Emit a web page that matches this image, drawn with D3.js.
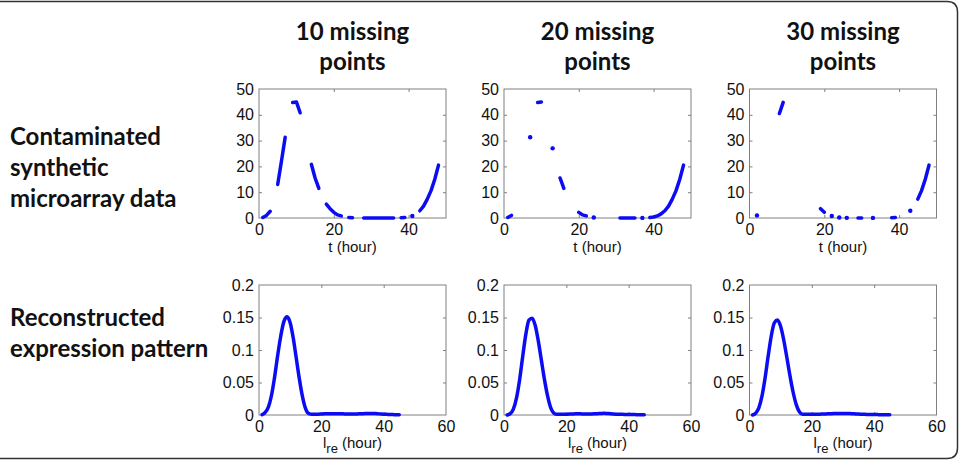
<!DOCTYPE html>
<html>
<head>
<meta charset="utf-8">
<script src="https://cdn.jsdelivr.net/npm/d3@7"></script>
<style>
  body { margin: 0; background: #fff; }
  svg { display: block; }
  .axis path { display: none; }
  .axis line { stroke: #808080; }
  .title { font-family: Lato, "Open Sans", sans-serif; font-weight: bold; font-size: 24px; fill: #111; }
  .xlabel { font-family: "Liberation Sans", Arial, sans-serif; font-size: 15px; fill: #111; }
</style>
</head>
<body>
<div id="chart"></div>
<script>
// synthetic profile, sampled hourly
var hours = [1, 2, 3, 4, 5, 6, 7, 8, 9, 10, 11, 12, 13, 14, 15, 16, 17, 18, 19, 20, 21, 22, 23, 24,
  25, 26, 27, 28, 29, 30, 31, 32, 33, 34, 35, 36, 37, 38, 39, 40, 41, 42, 43, 44, 45, 46, 47, 48];
var synthValues = [0.2, 1.0, 2.6, 6.5, 13, 22, 31.3, 40.5, 44.8, 45, 40.8, 33.5, 27, 20.8, 15.5, 11.5,
  8, 5.4, 3.6, 2.2, 1.2, 0.8, 0.4, 0.2, 0.1, 0.05, 0.03, 0.03, 0.03, 0.03, 0.03, 0.03, 0.03, 0.03,
  0.03, 0.03, 0.03, 0.1, 0.2, 0.4, 0.8, 1.6, 2.8, 4.6, 7.3, 10.6, 15, 20.5];

// hours removed in each column
var missing10 = [4, 8, 12, 13, 17, 23, 26, 27, 37, 40, 42];
var missing20 = [3, 4, 5, 6, 8, 11, 12, 14, 17, 18, 19, 23, 25, 26, 27, 28, 29, 30, 36, 38];
var missing30 = [1, 3, 4, 5, 6, 7, 10, 11, 12, 13, 14, 15, 16, 17, 18, 21, 23, 25, 27, 28, 31, 32,
  34, 35, 36, 37, 40, 41, 42, 44];

// reconstructed expression patterns
var reconHours = [1, 2, 3, 4, 5, 6, 7, 8, 9, 10, 11, 12, 13, 14, 15, 16, 17, 18, 19, 20, 21, 22, 23,
  24, 25, 26, 27, 28, 29, 30, 31, 32, 33, 34, 35, 36, 37, 38, 39, 40, 41, 42, 43, 44, 45];
var recon10 = [0.0005, 0.004, 0.012, 0.030, 0.058, 0.092, 0.122, 0.144, 0.151, 0.142, 0.118, 0.086,
  0.054, 0.027, 0.009, 0.002, 0.001, 0.001, 0.0012, 0.0015, 0.0018, 0.002, 0.002, 0.0021, 0.0021,
  0.002, 0.0018, 0.0016, 0.0015, 0.0015, 0.0016, 0.0018, 0.002, 0.0022, 0.0024, 0.0024, 0.0022,
  0.002, 0.0016, 0.0012, 0.001, 0.0008, 0.0006, 0.0004, 0.0003];
var recon20 = [0.0, 0.002, 0.009, 0.026, 0.054, 0.090, 0.124, 0.146, 0.149, 0.138, 0.114, 0.084,
  0.054, 0.029, 0.011, 0.003, 0.001, 0.001, 0.001, 0.0012, 0.0014, 0.0016, 0.0018, 0.0018, 0.0017,
  0.0016, 0.0015, 0.0016, 0.0018, 0.0021, 0.0024, 0.0026, 0.0024, 0.002, 0.0016, 0.0013, 0.0011,
  0.001, 0.0009, 0.0008, 0.0007, 0.0006, 0.0005, 0.0004, 0.0003];
var recon30 = [0.0, 0.003, 0.011, 0.029, 0.057, 0.091, 0.122, 0.142, 0.146, 0.136, 0.115, 0.088,
  0.060, 0.035, 0.016, 0.005, 0.001, 0.001, 0.001, 0.001, 0.0011, 0.0012, 0.0014, 0.0016, 0.0018,
  0.002, 0.0022, 0.0023, 0.0024, 0.0024, 0.0023, 0.0022, 0.002, 0.0017, 0.0014, 0.0012, 0.001,
  0.0009, 0.0008, 0.0007, 0.0006, 0.0005, 0.0004, 0.0004, 0.0003];

var topXTicks = [0, 20, 40];
var topYTicks = [0, 10, 20, 30, 40, 50];
var bottomXTicks = [0, 20, 40, 60];
var bottomYTicks = [0, 0.05, 0.1, 0.15, 0.2];

var columnTitles = [["10 missing", "points"], ["20 missing", "points"], ["30 missing", "points"]];
var rowLabels = [["Contaminated", "synthetic", "microarray data"], ["Reconstructed", "expression pattern"]];

var blue = "#0c0cf2";
var width = 959, height = 460;
var panelLefts = [259, 504, 749.5], panelW = 187;
var topRow = { y: 89, h: 129 }, bottomRow = { y: 285, h: 130 };

var svg = d3.select("#chart").append("svg")
  .attr("width", width)
  .attr("height", height);

// frame (only top/right edges visible)
svg.append("path")
  .attr("d", "M-5,1.5 H947 Q957.5,1.5 957.5,12 V448 Q957.5,458.5 947,458.5 H-5")
  .attr("fill", "none")
  .attr("stroke", "#333")
  .attr("stroke-width", 1.5);

columnTitles.forEach(function(lines, i) {
  var t = svg.append("text")
    .attr("class", "title")
    .attr("text-anchor", "middle")
    .attr("x", panelLefts[i] + panelW / 2)
    .attr("y", 40);
  lines.forEach(function(l, j) {
    t.append("tspan").attr("x", panelLefts[i] + panelW / 2).attr("dy", j ? 30 : 0).text(l);
  });
});

var rowY = [145, 326];
rowLabels.forEach(function(lines, i) {
  var t = svg.append("text").attr("class", "title").attr("x", 10).attr("y", rowY[i]);
  lines.forEach(function(l, j) {
    t.append("tspan").attr("x", 10).attr("dy", j ? 31 : 0).text(l);
  });
});

var drawAxes = function(g, x, y, xTicks, yTicks, w, h) {
  var tl = 3;
  g.append("rect")
    .attr("width", w).attr("height", h)
    .attr("fill", "none").attr("stroke", "#808080");
  g.append("g").attr("class", "axis")
    .attr("transform", "translate(0," + h + ")")
    .call(d3.axisBottom(x).tickValues(xTicks).tickSizeInner(-tl).tickSizeOuter(0).tickPadding(6));
  g.append("g").attr("class", "axis")
    .call(d3.axisTop(x).tickValues(xTicks).tickSizeInner(-tl).tickSizeOuter(0).tickFormat(""));
  g.append("g").attr("class", "axis")
    .call(d3.axisLeft(y).tickValues(yTicks).tickSizeInner(-tl).tickSizeOuter(0).tickPadding(5)
      .tickFormat(function(d) { return String(d); }));
  g.append("g").attr("class", "axis")
    .attr("transform", "translate(" + w + ",0)")
    .call(d3.axisRight(y).tickValues(yTicks).tickSizeInner(-tl).tickSizeOuter(0).tickFormat(""));
  g.selectAll(".axis").attr("font-size", null).attr("font-family", null);
  g.selectAll(".axis text")
    .style("font-family", "'Liberation Sans', Arial, sans-serif")
    .style("font-size", "16px")
    .style("fill", "#111");
  // hide ticks at the corners
  g.selectAll(".axis line").filter(function(d) { return d === 0 || d === 50 || d === 0.2 || d === 60; }).remove();
};

// top row: contaminated data with gaps
[missing10, missing20, missing30].forEach(function(missing, i) {
  var g = svg.append("g").attr("transform", "translate(" + panelLefts[i] + "," + topRow.y + ")");
  var x = d3.scaleLinear().domain([0, 50]).range([0, panelW]);
  var y = d3.scaleLinear().domain([0, 50]).range([topRow.h, 0]);
  drawAxes(g, x, y, topXTicks, topYTicks, panelW, topRow.h);

  var data = hours.map(function(t, k) {
    return { t: t, v: synthValues[k], ok: missing.indexOf(t) < 0 };
  });
  var line = d3.line()
    .defined(function(d) { return d.ok; })
    .x(function(d) { return x(d.t); })
    .y(function(d) { return y(d.v); });
  g.append("path")
    .attr("d", line(data))
    .attr("fill", "none")
    .attr("stroke", blue)
    .attr("stroke-width", 3.5)
    .attr("stroke-linecap", "round")
    .attr("stroke-linejoin", "round");

  var lonely = data.filter(function(d, k) {
    return d.ok && !(data[k - 1] && data[k - 1].ok) && !(data[k + 1] && data[k + 1].ok);
  });
  g.selectAll("circle").data(lonely).enter().append("circle")
    .attr("cx", function(d) { return x(d.t); })
    .attr("cy", function(d) { return y(d.v); })
    .attr("r", 2.2)
    .attr("fill", blue);

  g.append("text").attr("class", "xlabel")
    .attr("x", panelW / 2).attr("y", topRow.h + 34)
    .attr("text-anchor", "middle")
    .text("t (hour)");
});

// bottom row: reconstructed patterns
[recon10, recon20, recon30].forEach(function(vals, i) {
  var g = svg.append("g").attr("transform", "translate(" + panelLefts[i] + "," + bottomRow.y + ")");
  var x = d3.scaleLinear().domain([0, 60]).range([0, panelW]);
  var y = d3.scaleLinear().domain([0, 0.2]).range([bottomRow.h, 0]);
  drawAxes(g, x, y, bottomXTicks, bottomYTicks, panelW, bottomRow.h);

  var line = d3.line()
    .curve(d3.curveMonotoneX)
    .x(function(d, k) { return x(reconHours[k]); })
    .y(function(d) { return y(d); });
  g.append("path")
    .attr("d", line(vals))
    .attr("fill", "none")
    .attr("stroke", blue)
    .attr("stroke-width", 3.5)
    .attr("stroke-linecap", "round");

  var lbl = g.append("text").attr("class", "xlabel")
    .attr("x", panelW / 2).attr("y", bottomRow.h + 33)
    .attr("text-anchor", "middle");
  lbl.append("tspan").text("l");
  lbl.append("tspan").attr("dy", 5).attr("font-size", "13px").text("re");
  lbl.append("tspan").attr("dy", -5).text(" (hour)");
});
</script>
</body>
</html>
